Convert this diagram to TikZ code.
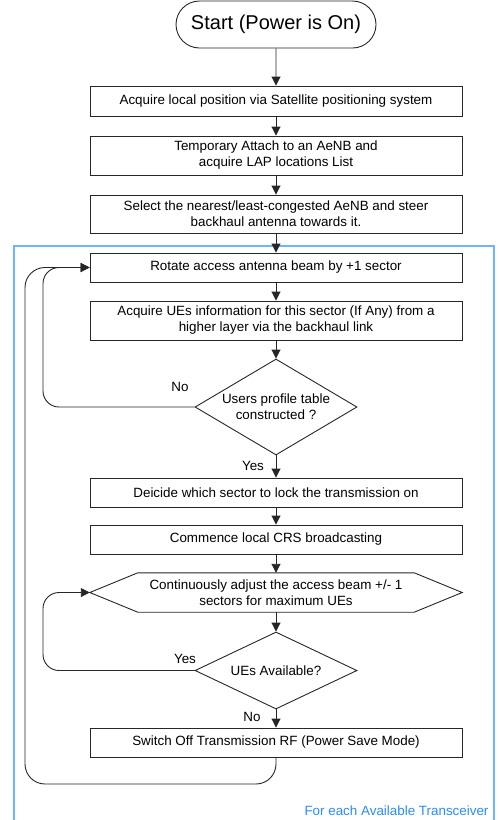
\documentclass[tikz,border=0pt]{standalone}
\usepackage{fontspec}
\setmainfont{Liberation Sans}
\usetikzlibrary{arrows.meta,shapes.geometric,shapes.misc,calc}
\definecolor{frameblue}{RGB}{110,180,255}
\definecolor{textblue}{RGB}{40,140,255}
\begin{document}
\begin{tikzpicture}[x=1pt,y=-1pt,
  txt/.style={font=\fontsize{13.4}{16}\selectfont},
  procbox/.style={draw=black!85, line width=0.9pt, rectangle, minimum width=372pt, align=center, inner sep=0pt, txt},
  decision/.style={draw=black!85, line width=0.9pt, diamond, minimum width=162pt, align=center, inner sep=0pt, shape aspect=1.7, txt},
  arr/.style={draw=black!85, line width=0.9pt, -{Triangle[length=9pt,width=9pt]}},
  lbl/.style={txt}]
\useasboundingbox (0,0) rectangle (499,820);
\draw[frameblue, line width=1.2pt] (14,246) rectangle (494,830);
\node[txt, text=textblue, anchor=base east] (foot) at (492,815) {For each Available Transceiver};

\node[draw=black!85, line width=0.9pt, rounded rectangle, minimum width=200pt, minimum height=47pt, inner sep=0pt, font=\fontsize{20}{24}\selectfont] (start) at (276,24.5) {Start (Power is On)};
\node[procbox, minimum height=30pt] (b1) at (276,101) {Acquire local position via Satellite positioning system};
\node[procbox, minimum height=39pt] (b2) at (276,155.5) {Temporary Attach to an AeNB and\\acquire LAP locations List};
\node[procbox, minimum height=38pt] (b3) at (276,214) {Select the nearest/least-congested AeNB and steer\\backhaul antenna towards it.};
\node[procbox, minimum height=29pt] (b4) at (276,267.5) {Rotate access antenna beam by +1 sector};
\node[procbox, minimum height=39pt] (b5) at (276,320.5) {Acquire UEs information for this sector (If Any) from a\\higher layer via the backhaul link};
\node[decision, minimum height=96pt] (d1) at (276,407) {Users profile table\\constructed ?};
\node[procbox, minimum height=29pt] (b6) at (276,492.5) {Deicide which sector to lock the transmission on};
\node[procbox, minimum height=29pt] (b7) at (276,539.5) {Commence local CRS broadcasting};
\node[txt, rectangle, minimum width=372pt, minimum height=39pt, inner sep=0pt, align=center] (hex) at (276,592.5) {Continuously adjust the access beam +/- 1\\sectors for maximum UEs};
\draw[black!85, line width=0.9pt] (hex.west) -- ($(hex.north west)+(48,0)$) -- ($(hex.north east)+(-48,0)$) -- (hex.east) -- ($(hex.south east)+(-48,0)$) -- ($(hex.south west)+(48,0)$) -- cycle;
\node[decision, minimum height=77pt] (d2) at (276,670.5) {UEs Available?};
\node[procbox, minimum height=29pt] (b8) at (276,742.5) {Switch Off Transmission RF (Power Save Mode)};

\draw[arr] (start) -- (b1);
\draw[arr] (b1) -- (b2);
\draw[arr] (b2) -- (b3);
\draw[arr] (b3) -- (b4);
\draw[arr] (b4) -- (b5);
\draw[arr] (b5) -- (d1);
\draw[arr] (d1) -- (b6);
\draw[arr] (b6) -- (b7);
\draw[arr] (b7) -- (hex);
\draw[arr] (hex) -- (d2);
\draw[arr] (d2) -- (b8);

\coordinate (l1) at (43,0);
\coordinate (l2) at (25,0);
\coordinate (bot) at (0,784);
\draw[arr, rounded corners=16pt] (d1.west) -- (d1.west -| l1) -- (b4.west -| l1) -- (b4.west);
\draw[arr, rounded corners=16pt] (d2.west) -- (d2.west -| l1) -- (hex.west -| l1) -- (hex.west);
\draw[arr, rounded corners=20pt] (b8.south) -- (b8.south |- bot) -- (l2 |- bot) -- (l2 |- b4.west) -- (b4.west);

\node[lbl] (no1) at (180,387) {No};
\node[lbl] (yes1) at (253,466) {Yes};
\node[lbl] (yes2) at (185,659) {Yes};
\node[lbl] (no2) at (252,717) {No};
\end{tikzpicture}
\end{document}
